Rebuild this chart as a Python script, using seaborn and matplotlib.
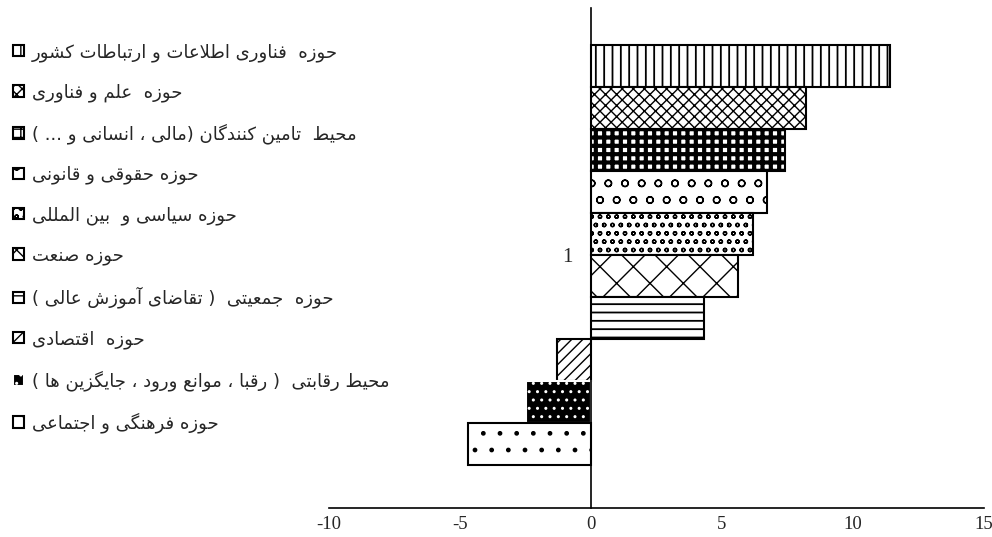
import matplotlib
matplotlib.use("Agg")
import matplotlib.pyplot as plt
import seaborn as sns
import pandas as pd

# Categories (top to bottom) and their values
labels = [
    "حوزه  فناوری اطلاعات و ارتباطات کشور",
    "حوزه  علم و فناوری",
    "محیط  تامین کنندگان (مالی ، انسانی و ... )",
    "حوزه حقوقی و قانونی",
    "حوزه سیاسی و  بین المللی",
    "حوزه صنعت",
    "حوزه  جمعیتی  ( تقاضای آموزش عالی )",
    "حوزه  اقتصادی",
    "محیط رقابتی  ( رقبا ، موانع ورود ، جایگزین ها )",
    "حوزه فرهنگی و اجتماعی",
]
values = [11.4, 8.2, 7.4, 6.7, 6.2, 5.6, 4.3, -1.3, -2.5, -4.7]
category_tick = "1"
x_ticks = [-10, -5, 0, 5, 10, 15]

# fill patterns, one per bar
hatches = ["||", "xxx", "++", "o", "oo", "x", "--", "///", "..", "."]
faces = ["white"] * 8 + ["black", "white"]
edges = ["black"] * 8 + ["white", "black"]
hatch_widths = [1.3, 1.0, 3.0, 1.0, 1.0, 1.0, 1.3, 1.0, 1.0, 1.0]

# matplotlib has no arabic shaping, so join the letters by hand and
# lay them out right to left
FORMS = {
    "\u0622": ("\uFE81", "\uFE82", None, None),
    "\u0627": ("\uFE8D", "\uFE8E", None, None),
    "\u0628": ("\uFE8F", "\uFE90", "\uFE91", "\uFE92"),
    "\u067E": ("\uFB56", "\uFB57", "\uFB58", "\uFB59"),
    "\u062A": ("\uFE95", "\uFE96", "\uFE97", "\uFE98"),
    "\u062B": ("\uFE99", "\uFE9A", "\uFE9B", "\uFE9C"),
    "\u062C": ("\uFE9D", "\uFE9E", "\uFE9F", "\uFEA0"),
    "\u0686": ("\uFB7A", "\uFB7B", "\uFB7C", "\uFB7D"),
    "\u062D": ("\uFEA1", "\uFEA2", "\uFEA3", "\uFEA4"),
    "\u062E": ("\uFEA5", "\uFEA6", "\uFEA7", "\uFEA8"),
    "\u062F": ("\uFEA9", "\uFEAA", None, None),
    "\u0630": ("\uFEAB", "\uFEAC", None, None),
    "\u0631": ("\uFEAD", "\uFEAE", None, None),
    "\u0632": ("\uFEAF", "\uFEB0", None, None),
    "\u0698": ("\uFB8A", "\uFB8B", None, None),
    "\u0633": ("\uFEB1", "\uFEB2", "\uFEB3", "\uFEB4"),
    "\u0634": ("\uFEB5", "\uFEB6", "\uFEB7", "\uFEB8"),
    "\u0635": ("\uFEB9", "\uFEBA", "\uFEBB", "\uFEBC"),
    "\u0636": ("\uFEBD", "\uFEBE", "\uFEBF", "\uFEC0"),
    "\u0637": ("\uFEC1", "\uFEC2", "\uFEC3", "\uFEC4"),
    "\u0638": ("\uFEC5", "\uFEC6", "\uFEC7", "\uFEC8"),
    "\u0639": ("\uFEC9", "\uFECA", "\uFECB", "\uFECC"),
    "\u063A": ("\uFECD", "\uFECE", "\uFECF", "\uFED0"),
    "\u0641": ("\uFED1", "\uFED2", "\uFED3", "\uFED4"),
    "\u0642": ("\uFED5", "\uFED6", "\uFED7", "\uFED8"),
    "\u06A9": ("\uFB8E", "\uFB8F", "\uFB90", "\uFB91"),
    "\u06AF": ("\uFB92", "\uFB93", "\uFB94", "\uFB95"),
    "\u0644": ("\uFEDD", "\uFEDE", "\uFEDF", "\uFEE0"),
    "\u0645": ("\uFEE1", "\uFEE2", "\uFEE3", "\uFEE4"),
    "\u0646": ("\uFEE5", "\uFEE6", "\uFEE7", "\uFEE8"),
    "\u0647": ("\uFEE9", "\uFEEA", "\uFEEB", "\uFEEC"),
    "\u0648": ("\uFEED", "\uFEEE", None, None),
    "\u06CC": ("\uFBFC", "\uFBFD", "\uFBFE", "\uFBFF"),
}
LAM_ALEF = {"\u0627": ("\uFEFB", "\uFEFC"), "\u0622": ("\uFEF5", "\uFEF6")}


def joins_next(c):
    return c in FORMS and FORMS[c][2] is not None


def shape(text):
    text = text.replace("\u064A", "\u06CC").replace("\u0643", "\u06A9")
    out = []
    i = 0
    while i < len(text):
        c = text[i]
        if c not in FORMS:
            out.append(c)
            i += 1
            continue
        from_prev = i > 0 and joins_next(text[i - 1])
        nxt = text[i + 1] if i + 1 < len(text) else ""
        if c == "\u0644" and nxt in LAM_ALEF:
            out.append(LAM_ALEF[nxt][1 if from_prev else 0])
            i += 2
            continue
        to_next = joins_next(c) and nxt in FORMS
        iso, fin, ini, med = FORMS[c]
        if from_prev and to_next:
            out.append(med)
        elif from_prev:
            out.append(fin)
        elif to_next:
            out.append(ini)
        else:
            out.append(iso)
        i += 1
    mirror = {"(": ")", ")": "("}
    return "".join(mirror.get(ch, ch) for ch in reversed(out))


df = pd.DataFrame({"label": labels, "value": values})

sns.set_style("white")
plt.rcParams["hatch.linewidth"] = 1.0

fig = plt.figure(figsize=(9.92, 5.37), dpi=100)
ax = fig.add_axes([0.3317, 0.054, 0.6603, 0.931])
sns.barplot(data=df, x="value", y="label", orient="h", width=1.0, color="white",
            saturation=1, edgecolor="black", linewidth=1.5, ax=ax)

for bar, h, fc, ec, hw in zip(ax.patches, hatches, faces, edges, hatch_widths):
    bar.set_hatch(h)
    bar.set_facecolor(fc)
    bar.set_edgecolor(ec)
    if hasattr(bar, "set_hatch_linewidth"):
        bar.set_hatch_linewidth(hw)

ax.set_xlim(-10, 15)
ax.set_ylim(10.524, -1.381)
ax.set_xticks(x_ticks, [str(t) for t in x_ticks])
ax.set_yticks([4.5], [category_tick])
ax.tick_params(axis="x", length=0, pad=6, labelsize=13.5, labelfontfamily="Liberation Serif")
ax.tick_params(axis="y", length=0, pad=13, labelsize=15, labelfontfamily="Liberation Serif")
ax.set_xlabel("")
ax.set_ylabel("")

ax.spines["top"].set_visible(False)
ax.spines["right"].set_visible(False)
ax.spines["left"].set_position(("data", 0))
for s in ["left", "bottom"]:
    ax.spines[s].set_linewidth(1.2)
    ax.spines[s].set_color("black")

leg = fig.legend(ax.patches, [shape(t) for t in labels], loc="upper left",
                 bbox_to_anchor=(13 / 992, 1 - 43 / 537), frameon=False,
                 borderpad=0, borderaxespad=0, handlelength=0.61, handleheight=0.61,
                 handletextpad=0.44, labelspacing=1.2,
                 prop={"family": "DejaVu Sans", "size": 13})

fig.savefig("out.png", dpi=100)
